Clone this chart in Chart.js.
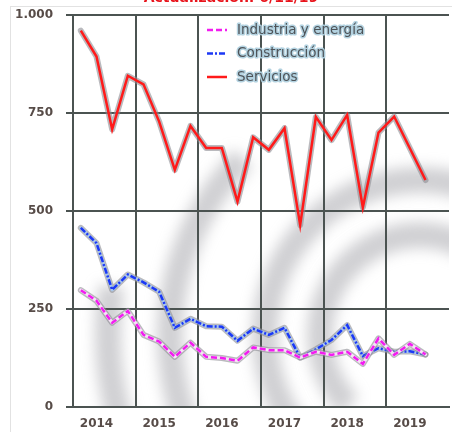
<!DOCTYPE html>
<html>
<head>
<meta charset="utf-8">
<script src="https://cdn.jsdelivr.net/npm/chart.js@4.4.1/dist/chart.umd.min.js"></script>
<style>
  html, body { margin: 0; padding: 0; background: #fff; }
  #wrap { position: relative; width: 452px; height: 432px; }
</style>
</head>
<body>
<div id="wrap"><canvas id="chart" width="452" height="432"></canvas></div>
<script>
// quarterly series, 2014 T1 .. 2019 T3
const years = ['2014', '2015', '2016', '2017', '2018', '2019'];
const quarters = ['T1', 'T2', 'T3', 'T4'];

const industria = [298, 271, 215, 245, 184, 167, 128, 164, 128, 125, 118, 152,
                   145, 145, 126, 141, 133, 141, 110, 175, 133, 161, 134];
const construccion = [457, 418, 299, 338, 318, 294, 202, 225, 206, 205, 169, 200,
                      184, 202, 126, 147, 171, 209, 130, 150, 141, 142, 134];
const servicios = [960, 894, 708, 845, 823, 728, 605, 717, 661, 661, 524, 688,
                   656, 711, 464, 740, 681, 745, 509, 700, 741, 660, 579];

const yTickLabels = ['0', '250', '500', '750', '1.000'];
const titleText = 'Actualización: 6/11/19';

const labels = [];
years.forEach(y => quarters.forEach(q => labels.push(q + ' ' + y)));

const GRID = '#4b5351';
const TICK_COLOR = '#574c48';
const FONT = 'DejaVu Sans';

// grey outline under each line, plus a pale band showing through the dash gaps
const halo = {
  id: 'halo',
  beforeDatasetDraw(chart, args) {
    const ds = chart.data.datasets[args.index];
    const pts = args.meta.data.filter(p => !p.skip);
    if (!pts.length) return;
    const ctx = chart.ctx;
    const a = chart.chartArea;
    ctx.save();
    ctx.beginPath();
    ctx.rect(a.left, a.top, a.right - a.left, a.bottom - a.top);
    ctx.clip();
    ctx.lineJoin = 'round';
    ctx.lineCap = 'round';
    const path = () => {
      ctx.beginPath();
      pts.forEach((p, i) => i ? ctx.lineTo(p.x, p.y) : ctx.moveTo(p.x, p.y));
    };
    path();
    ctx.strokeStyle = 'rgba(140,140,146,0.6)';
    ctx.lineWidth = 6;
    ctx.stroke();
    if (ds.haloColor) {
      path();
      ctx.strokeStyle = ds.haloColor;
      ctx.lineWidth = 3.2;
      ctx.stroke();
    }
    ctx.restore();
  }
};

// page frame, cut-off heading and the grey arcs behind the plot
const backdrop = {
  id: 'backdrop',
  beforeDraw(chart) {
    const ctx = chart.ctx;
    const a = chart.chartArea;
    ctx.save();
    ctx.fillStyle = '#fff';
    ctx.fillRect(0, 0, chart.width, chart.height);
    ctx.strokeStyle = '#e2e2e2';
    ctx.lineWidth = 1;
    ctx.strokeRect(10.5, 6.5, 600, 600);

    ctx.fillStyle = '#e8141c';
    ctx.font = 'bold 14px ' + FONT;
    ctx.textAlign = 'center';
    ctx.textBaseline = 'alphabetic';
    ctx.fillText(titleText, 231, 2);

    ctx.beginPath();
    ctx.rect(a.left, a.top, a.right - a.left, a.bottom - a.top);
    ctx.clip();
    ctx.filter = 'blur(7px)';
    ctx.strokeStyle = 'rgba(150,150,158,0.45)';
    ctx.lineWidth = 26;
    const cx = 420, cy = 335;
    const arcs = [
      [100, 0.75, 1.95],
      [155, 0.72, 1.92],
      [250, 0.85, 1.25],
      [312, 0.90, 1.05]
    ];
    arcs.forEach(([r, s, e]) => {
      ctx.beginPath();
      ctx.arc(cx, cy, r, s * Math.PI, e * Math.PI);
      ctx.stroke();
    });
    ctx.restore();
  }
};

// legend drawn inside the plot area
const innerLegend = {
  id: 'innerLegend',
  afterDatasetsDraw(chart) {
    const ctx = chart.ctx;
    const a = chart.chartArea;
    const x0 = a.left + 134, y0 = a.top + 15, step = 23.5;
    ctx.save();
    ctx.font = '13.5px ' + FONT;
    ctx.textBaseline = 'middle';
    ctx.textAlign = 'left';
    chart.data.datasets.forEach((ds, i) => {
      const y = y0 + i * step;
      ctx.beginPath();
      ctx.setLineDash(ds.borderDash || []);
      ctx.strokeStyle = ds.borderColor;
      ctx.lineWidth = 2.5;
      ctx.moveTo(x0, y);
      ctx.lineTo(x0 + 20, y);
      ctx.stroke();
      ctx.setLineDash([]);
      ctx.lineJoin = 'round';
      ctx.strokeStyle = 'rgba(175,208,222,0.95)';
      ctx.lineWidth = 3;
      ctx.strokeText(ds.label, x0 + 30, y);
      ctx.fillStyle = '#4e5358';
      ctx.fillText(ds.label, x0 + 30, y);
    });
    ctx.restore();
  }
};

const lineDefaults = { borderWidth: 2.5, pointRadius: 0, tension: 0, fill: false };

new Chart(document.getElementById('chart'), {
  type: 'line',
  data: {
    labels: labels,
    datasets: [
      Object.assign({ label: 'Industria y energía', data: industria,
        borderColor: '#f21cf0', borderDash: [6, 3], haloColor: '#f6e2f6' }, lineDefaults),
      Object.assign({ label: 'Construcción', data: construccion,
        borderColor: '#1c38f5', borderDash: [6, 2, 2, 2], haloColor: '#a9c6ea' }, lineDefaults),
      Object.assign({ label: 'Servicios', data: servicios,
        borderColor: '#ff1a1a', haloColor: null }, lineDefaults)
    ]
  },
  options: {
    responsive: false,
    animation: false,
    layout: { padding: { left: 0, right: 3, top: 15, bottom: 0 } },
    plugins: { legend: { display: false }, tooltip: { enabled: false } },
    scales: {
      x: {
        offset: true,
        afterFit: s => { s.height = 25; },
        grid: {
          offset: true,
          drawTicks: false,
          lineWidth: 2,
          color: c => (c.index % 4 === 0 ? GRID : 'rgba(0,0,0,0)')
        },
        border: { color: GRID, width: 2 },
        ticks: {
          autoSkip: false,
          maxRotation: 0,
          padding: 10,
          color: TICK_COLOR,
          font: { family: FONT, size: 12, weight: 'bold' },
          callback: (v, i) => (i % 4 === 1 ? years[Math.floor(i / 4)] : '')
        }
      },
      y: {
        min: 0,
        max: 1000,
        afterFit: s => { s.width = 73; s.paddingTop = 0; s.paddingBottom = 0; },
        grid: { color: GRID, lineWidth: 2, tickLength: 7 },
        border: { color: GRID, width: 2 },
        ticks: {
          stepSize: 250,
          padding: 13,
          color: TICK_COLOR,
          font: { family: FONT, size: 12, weight: 'bold' },
          callback: (v, i) => yTickLabels[i]
        }
      }
    }
  },
  plugins: [backdrop, halo, innerLegend]
});
</script>
</body>
</html>
